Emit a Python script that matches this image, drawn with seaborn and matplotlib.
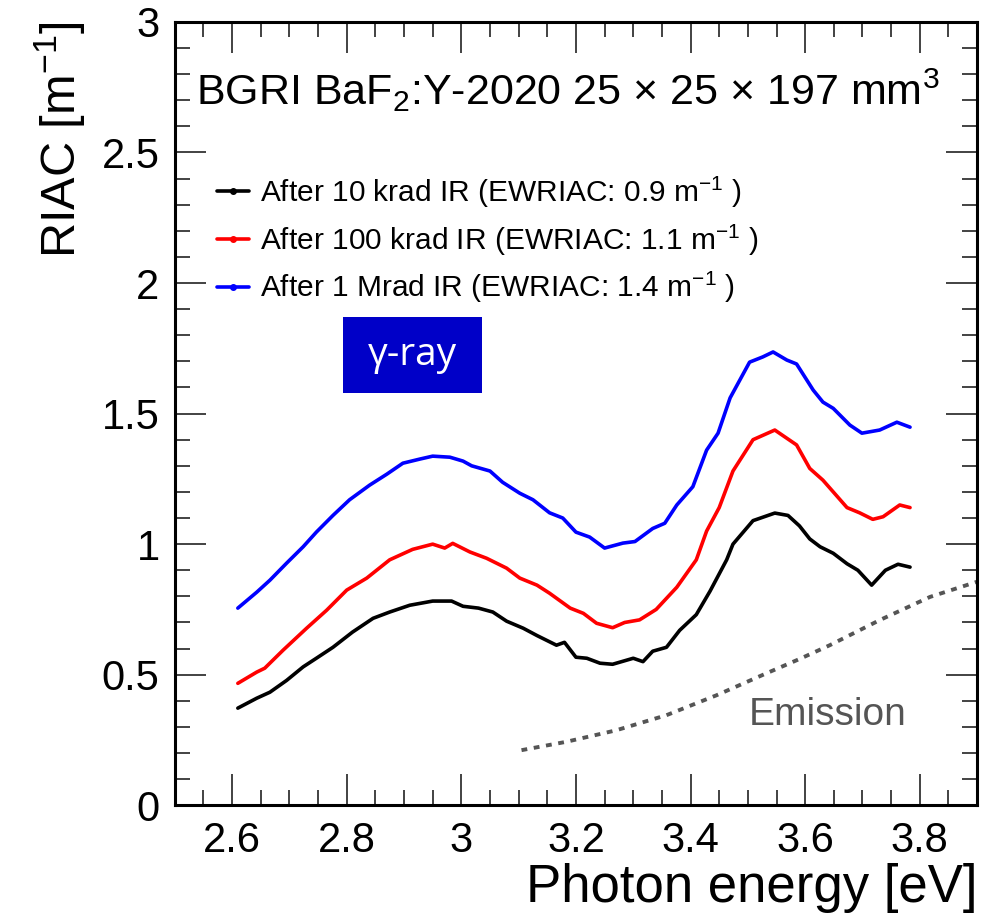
import numpy as np
import pandas as pd
import matplotlib
matplotlib.use("Agg")
import matplotlib.pyplot as plt
from matplotlib.lines import Line2D
from matplotlib.patches import Rectangle
from matplotlib.ticker import MultipleLocator, FormatStrFormatter
import seaborn as sns

# ---------------- data ----------------
x_10k = [2.61, 2.643, 2.666, 2.695, 2.724, 2.747, 2.776, 2.81, 2.846, 2.875, 2.91, 2.95,
         2.983, 3.003, 3.03, 3.055, 3.079, 3.108, 3.132, 3.166, 3.18, 3.20, 3.219, 3.242,
         3.264, 3.30, 3.317, 3.334, 3.358, 3.381, 3.41, 3.434, 3.463, 3.474, 3.509, 3.547,
         3.57, 3.59, 3.608, 3.626, 3.649, 3.673, 3.692, 3.716, 3.74, 3.762, 3.783]
y_10k = [0.372, 0.41, 0.433, 0.478, 0.53, 0.563, 0.605, 0.663, 0.716, 0.74, 0.766, 0.782,
         0.782, 0.762, 0.755, 0.74, 0.705, 0.678, 0.65, 0.613, 0.624, 0.567, 0.563, 0.544,
         0.54, 0.563, 0.55, 0.59, 0.605, 0.67, 0.73, 0.82, 0.94, 1.00, 1.09, 1.119,
         1.11, 1.07, 1.02, 0.99, 0.965, 0.925, 0.90, 0.843, 0.90, 0.923, 0.912]

x_100k = [2.61, 2.643, 2.657, 2.689, 2.73, 2.765, 2.80, 2.835, 2.875, 2.915, 2.95, 2.971,
          2.985, 3.015, 3.044, 3.079, 3.102, 3.132, 3.154, 3.19, 3.213, 3.236, 3.264, 3.285,
          3.311, 3.34, 3.376, 3.41, 3.428, 3.45, 3.474, 3.509, 3.547, 3.585, 3.608, 3.631,
          3.673, 3.695, 3.718, 3.736, 3.765, 3.783]
y_100k = [0.467, 0.51, 0.525, 0.594, 0.678, 0.747, 0.824, 0.87, 0.94, 0.98, 1.00, 0.985,
          1.003, 0.97, 0.946, 0.908, 0.87, 0.843, 0.812, 0.755, 0.735, 0.697, 0.68, 0.70,
          0.71, 0.75, 0.835, 0.94, 1.05, 1.14, 1.28, 1.40, 1.437, 1.38, 1.29, 1.245,
          1.14, 1.12, 1.095, 1.105, 1.15, 1.14]

x_1M = [2.61, 2.643, 2.666, 2.695, 2.724, 2.747, 2.776, 2.805, 2.84, 2.87, 2.898, 2.928,
        2.95, 2.98, 3.003, 3.018, 3.05, 3.072, 3.102, 3.125, 3.154, 3.177, 3.20, 3.224,
        3.25, 3.282, 3.303, 3.334, 3.355, 3.376, 3.404, 3.428, 3.448, 3.469, 3.503, 3.526,
        3.544, 3.568, 3.585, 3.614, 3.631, 3.649, 3.678, 3.699, 3.73, 3.76, 3.783]
y_1M = [0.755, 0.816, 0.862, 0.927, 0.99, 1.046, 1.11, 1.17, 1.226, 1.268, 1.31, 1.326,
        1.337, 1.333, 1.318, 1.30, 1.28, 1.237, 1.195, 1.17, 1.12, 1.10, 1.046, 1.027,
        0.985, 1.004, 1.01, 1.06, 1.08, 1.15, 1.22, 1.36, 1.425, 1.56, 1.697, 1.717,
        1.736, 1.705, 1.69, 1.59, 1.544, 1.52, 1.456, 1.425, 1.437, 1.467, 1.448]

x_emis = [3.105, 3.183, 3.27, 3.358, 3.445, 3.532, 3.59, 3.643, 3.73, 3.818, 3.9]
y_emis = [0.211, 0.243, 0.287, 0.345, 0.421, 0.505, 0.56, 0.613, 0.709, 0.798, 0.856]

series_labels = ["After 10 krad IR (EWRIAC: 0.9 m$^{-1}$ )",
                 "After 100 krad IR (EWRIAC: 1.1 m$^{-1}$ )",
                 "After 1 Mrad IR (EWRIAC: 1.4 m$^{-1}$ )"]
series_colors = ["#000000", "#ff0000", "#0000ff"]

x_ticks = [2.6, 2.8, 3.0, 3.2, 3.4, 3.6, 3.8]
y_ticks = [0, 0.5, 1, 1.5, 2, 2.5, 3]

# ---------------- style ----------------
sns.set_theme(style="ticks")
plt.rcParams["font.family"] = ["Liberation Sans", "DejaVu Sans"]
plt.rcParams["mathtext.fontset"] = "custom"
plt.rcParams["mathtext.rm"] = "Liberation Sans"
plt.rcParams["mathtext.it"] = "Liberation Sans:italic"
plt.rcParams["mathtext.bf"] = "Liberation Sans:bold"
plt.rcParams["text.color"] = "black"
plt.rcParams["axes.labelcolor"] = "black"
plt.rcParams["xtick.labelcolor"] = "black"
plt.rcParams["ytick.labelcolor"] = "black"

df = pd.concat([
    pd.DataFrame({"E": x_10k, "RIAC": y_10k, "series": series_labels[0]}),
    pd.DataFrame({"E": x_100k, "RIAC": y_100k, "series": series_labels[1]}),
    pd.DataFrame({"E": x_1M, "RIAC": y_1M, "series": series_labels[2]}),
])

fig = plt.figure(figsize=(9.82, 9.13), dpi=100)
ax = fig.add_axes([0.178, 0.118, 0.817, 0.858])

sns.lineplot(data=df, x="E", y="RIAC", hue="series", palette=series_colors,
             estimator=None, sort=False, linewidth=2.6, legend=False, ax=ax)
sns.lineplot(x=x_emis, y=y_emis, color="#555555", linewidth=2.8,
             linestyle=(0, (1.5, 1.7)), estimator=None, sort=False, ax=ax)

ax.set_xlim(2.5, 3.9)
ax.set_ylim(0, 3)
ax.set_xticks(x_ticks)
ax.set_yticks(y_ticks)
ax.xaxis.set_minor_locator(MultipleLocator(0.05))
ax.yaxis.set_minor_locator(MultipleLocator(0.1))
ax.xaxis.set_major_formatter(FormatStrFormatter("%g"))
ax.yaxis.set_major_formatter(FormatStrFormatter("%g"))
ax.tick_params(which="both", direction="in", top=True, right=True, color="#222222")
ax.tick_params(which="major", length=22, width=1.2, labelsize=30, pad=11)
ax.tick_params(which="minor", length=11, width=1.2)
for s in ax.spines.values():
    s.set_linewidth(2.2)
    s.set_color("black")

ax.set_xlabel("Photon energy [eV]", fontsize=38, loc="right", labelpad=2)
ax.set_ylabel("RIAC [m$^{-1}$]", fontsize=35, loc="top", labelpad=10)

ax.text(0.027, 0.894, "BGRI BaF$_2$:Y-2020 25 × 25 × 197 mm$^3$", transform=ax.transAxes,
        fontsize=31, ha="left", va="baseline")

handles = [Line2D([0], [0], color=c, linewidth=2.6, marker="o", markersize=4)
           for c in series_colors]
ax.legend(handles, series_labels, loc="upper left", bbox_to_anchor=(0.052, 0.805),
          frameon=False, fontsize=21.5, handlelength=1.1, handletextpad=0.35,
          labelspacing=0.42, borderpad=0, borderaxespad=0)

ax.add_patch(Rectangle((0.2095, 0.526), 0.173, 0.097, transform=ax.transAxes,
                       facecolor="#0000c8", edgecolor="none", zorder=3))
ax.text(0.2095 + 0.173 / 2, 0.526 + 0.097 / 2, "γ-ray", transform=ax.transAxes,
        color="white", fontsize=28, ha="center", va="center",
        family=["Open Sans", "DejaVu Sans"], zorder=4)

ax.text(3.64, 0.345, "Emission", color="#555555", fontsize=28, ha="center", va="center")

fig.savefig("out.png", dpi=100)
